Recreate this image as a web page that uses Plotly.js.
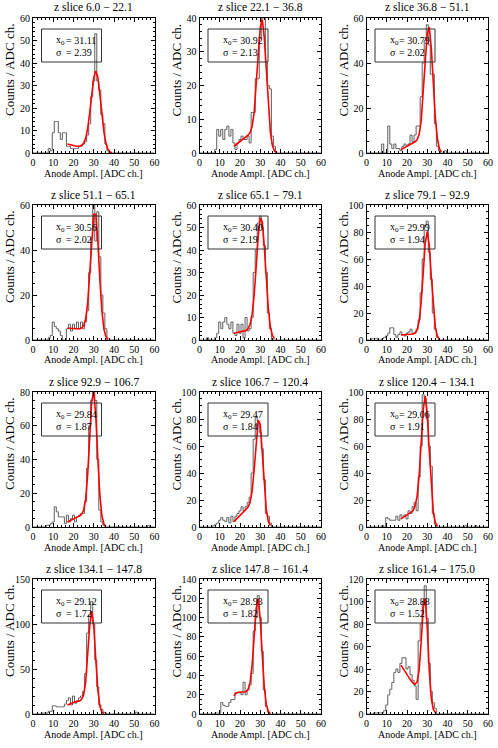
<!DOCTYPE html>
<html><head><meta charset="utf-8">
<script src="https://cdn.plot.ly/plotly-3.0.1.min.js"></script>
<style>html,body{margin:0;padding:0;background:#fff}#chart{width:498px;height:748px}</style>
</head><body><div id="chart"></div>
<script>
// ---------------- data ----------------
const sliceTitles = [
  "z slice 6.0 \u2212 22.1", "z slice 22.1 \u2212 36.8", "z slice 36.8 \u2212 51.1",
  "z slice 51.1 \u2212 65.1", "z slice 65.1 \u2212 79.1", "z slice 79.1 \u2212 92.9",
  "z slice 92.9 \u2212 106.7", "z slice 106.7 \u2212 120.4", "z slice 120.4 \u2212 134.1",
  "z slice 134.1 \u2212 147.8", "z slice 147.8 \u2212 161.4", "z slice 161.4 \u2212 175.0"
];
const peakX0 = ["31.11","30.92","30.79","30.56","30.40","29.99","29.84","29.47","29.06","29.12","28.93","28.88"];
const peakSigma = ["2.39","2.13","2.02","2.02","2.19","1.94","1.87","1.84","1.91","1.72","1.82","1.52"];
const yMax  = [60, 40, 60, 60, 60, 100, 80, 100, 100, 150, 140, 120];
const yStep = [10, 10, 20, 20, 10, 20, 20, 20, 20, 50, 20, 20];
const yMinor = [2, 2, 5, 5, 2, 5, 5, 5, 5, 10, 5, 5];

// histogram counts, one value per ADC channel 0..60
const counts1 = [0,0,0,0,0,0,0,0,2,1, 9,14,14,9,6,9,9,3,3,2, 2,2,2,3,3,4,5,8,13,25, 32,53,32,28,17,13,4,1,0,0, 0,0,0,0,0,0,0,0,0,0, 0,0,0,0,0,0,0,0,0,0, 0];
const counts2 = [0,0,0,0,0,0,0,0,1,7, 5,7,4,7,8,5,7,3,1,3, 4,5,4,4,5,3,12,12,22,22, 34,40,40,27,20,19,5,2,0,0, 0,0,0,0,0,0,0,0,0,0, 0,0,0,0,0,0,0,0,0,0, 0];
const counts3 = [0,0,0,0,0,0,0,0,4,0, 0,12,4,2,4,2,2,1,3,4, 3,4,8,5,8,12,12,25,40,50, 57,48,35,35,13,3,1,0,0,1, 0,0,0,0,0,0,0,0,0,0, 0,0,0,0,0,0,0,0,0,0, 0];
const counts4 = [0,0,0,0,0,0,0,0,1,2, 8,6,5,4,2,0,0,5,7,4, 7,5,8,5,8,5,8,13,30,45, 60,44,57,37,20,12,5,0,0,0, 0,0,0,0,0,0,0,0,0,0, 0,0,0,0,0,0,0,0,0,0, 0];
const counts5 = [0,0,0,0,1,0,0,0,1,3, 8,5,8,10,7,5,8,3,2,7, 3,7,1,10,4,5,10,30,40,52, 55,50,42,30,12,5,0,0,0,0, 0,0,0,0,0,0,0,0,0,0, 0,0,0,0,0,0,0,0,0,0, 0];
const counts6 = [0,0,0,1,1,1,0,0,1,2, 3,5,9,9,4,2,4,6,4,3, 5,6,8,5,5,8,15,35,60,85, 88,65,45,20,8,2,0,0,0,0, 0,0,0,0,0,0,0,0,0,0, 0,0,0,0,0,0,0,0,0,0, 0];
const counts7 = [0,0,0,0,0,0,0,1,1,2, 3,12,9,6,6,6,2,7,3,5, 7,3,6,7,8,8,15,35,60,75, 80,75,40,10,3,1,0,0,0,0, 0,0,0,0,0,0,0,0,0,0, 0,0,0,0,0,0,0,1,0,0, 0];
const counts8 = [0,0,0,0,0,0,0,1,2,3, 5,7,5,4,7,3,8,4,8,10, 12,15,12,15,18,22,40,65,82,78, 70,58,35,10,8,3,0,0,0,0, 0,0,0,0,0,0,0,0,0,0, 0,0,0,0,0,0,0,0,0,0, 0];
const counts9 = [0,0,0,0,0,0,0,0,1,0, 7,6,5,5,5,8,5,9,7,9, 6,12,10,15,18,12,37,60,98,95, 80,60,45,10,2,0,0,0,0,0, 0,0,0,0,0,0,0,0,0,1, 0,0,0,0,1,0,0,0,0,0, 0];
const counts10 = [0,0,0,0,0,1,1,1,3,3, 9,9,8,8,8,8,11,15,18,10, 20,12,15,18,20,25,45,90,110,125, 100,60,30,10,5,2,1,0,0,0, 0,0,0,0,0,0,0,0,0,0, 0,2,0,0,0,0,0,0,0,0, 0];
const counts11 = [0,0,0,0,0,0,0,0,1,1, 1,12,9,8,8,12,15,15,22,22, 22,20,33,20,25,30,42,86,100,123, 100,65,25,8,2,0,0,0,0,0, 0,0,0,0,0,0,0,0,0,0, 0,0,0,0,0,0,0,0,0,0, 0];
const counts12 = [0,0,0,0,1,1,1,1,1,3, 8,17,22,28,37,40,37,45,50,50, 40,42,35,30,25,13,65,80,100,114, 85,45,20,10,5,0,0,0,0,0, 0,0,0,0,0,0,0,0,0,0, 0,0,0,0,0,0,0,0,0,0, 0];

// fitted curve values, one per ADC channel starting at fitStart
const fitStart = 17;
const fit1 = [4,3.7,3.5,3.3,3.1,3,3,3.4,4.3,6.5,10.9,17.8,26.3,33.5,36.5,33.8,26.2,17.1,9.5,4.4,1.7,0.5,0.1];
const fit2 = [2,2.5,3,3.5,4,4.4,4.8,5.3,6.1,7.9,12,19.4,29.1,37.2,39.6,34.2,24,13.5,6.1,2.2,0.6,0.15];
const fit3 = [1.5,2,2.5,3,3.5,4,4.4,5,5.9,8.3,14.2,25.4,40.5,53.2,56,46.6,30.5,15.7,6.4,1.9,0.5];
const fit4 = [5.2,5.1,5,5,5,5,5,5.3,6.3,9.3,16.5,29.1,44.7,55.9,55.9,44.1,27.2,13.2,5,1.5,0.3];
const fit5 = [3,3.2,3.4,3.6,3.8,4,4.2,5.1,7,11.5,20,32.8,46.3,54.3,52.6,41.5,26.6,13.9,5.9,2,0.6];
const fit6 = [3.7,3.8,3.9,4,4.1,4.2,4.4,5.2,7.4,13.8,27.9,49.7,71.5,80.4,69.9,46.9,24.1,9.5,2.9,0.6];
const fit7 = [3,3.7,4.3,5,5.5,6,6.5,7.6,9.9,16.4,31.1,53.5,74.6,80.3,65.9,40.9,19.2,6.8,1.8,0.3];
const fit8 = [4,5.5,7,8.5,10,11.3,12.6,14.7,18.3,26.7,42.7,64.1,79.2,76.1,55.5,30.5,12.6,4,1];
const fit9 = [6,7,8,9,10,11,12,15.7,22.9,38,62.3,87.1,97,84.2,56.3,28.7,11.2,3.4,0.7];
const fit10 = [10,11,12,13,13.5,14,14.5,16.3,21.2,35.5,63.6,97.7,114.3,98,60.9,27.4,8.9,2.1,0.3];
const fit11 = [19,21.5,22.5,22.8,23,23,23,25.7,33,51,80.5,109.8,119.4,98.3,60.8,28,9.7,2.5,0.4];
const fit12 = [43.5,40.5,37.5,34.5,32,29.5,27.5,26.5,28.5,39,63.9,94.1,102.7,77.1,39,13.9,4,1.3];

const allCounts = [counts1,counts2,counts3,counts4,counts5,counts6,counts7,counts8,counts9,counts10,counts11,counts12];
const allFits = [fit1,fit2,fit3,fit4,fit5,fit6,fit7,fit8,fit9,fit10,fit11,fit12];

// ---------------- layout geometry ----------------
const W = 498, H = 748;
const colLeft = [33, 199.5, 366.5], plotW = 121.5;
const rowTop = [18, 205, 392, 579], plotH = 135;
const px = v => v / W, py = v => 1 - v / H;
const FONT = "Liberation Serif";

const traces = [], shapes = [], annotations = [];
const layout = {
  width: W, height: H, margin: {l:0, r:0, t:0, b:0},
  paper_bgcolor: '#fff', plot_bgcolor: '#fff', showlegend: false,
  font: {family: FONT, size: 10, color: '#000'}
};

function note(text, x, y, size, opts) {
  annotations.push(Object.assign({text: text, xref:'paper', yref:'paper', x: px(x), y: py(y),
    xanchor:'center', yanchor:'middle', showarrow:false,
    font:{family:FONT, size:size, color:'#000'}}, opts || {}));
}

for (let i = 0; i < 12; i++) {
  const r = Math.floor(i / 3), c = i % 3;
  const L = colLeft[c], T = rowTop[r];
  const n = i + 1;
  const xa = 'x' + (n === 1 ? '' : n), ya = 'y' + (n === 1 ? '' : n);
  const channels = allCounts[i].map((_, k) => k);
  const fitX = allFits[i].map((_, k) => fitStart + k);
  traces.push({type:'scatter', mode:'lines', x: channels, y: allCounts[i], xaxis: xa, yaxis: ya,
    line: {shape:'hvh', color:'#5e5e5e', width:1}, hoverinfo:'skip'});
  traces.push({type:'scatter', mode:'lines', x: fitX, y: allFits[i], xaxis: xa, yaxis: ya,
    line: {color:'#ff0000', width:1.6}, hoverinfo:'skip'});

  const common = {showline:true, linecolor:'#000', linewidth:1, mirror:'ticks', ticks:'inside',
    ticklen:4, tickwidth:1, tickcolor:'#000', showgrid:false, zeroline:false,
    tickfont:{family:FONT, size:10, color:'#000'}, fixedrange:true};
  layout['xaxis' + (n === 1 ? '' : n)] = Object.assign({}, common, {
    domain:[px(L), px(L + plotW)], range:[0, 60], dtick:10, tick0:0, anchor: ya,
    minor:{ticks:'inside', dtick:2, ticklen:2, tickcolor:'#000'}});
  layout['yaxis' + (n === 1 ? '' : n)] = Object.assign({}, common, {
    domain:[py(T + plotH), py(T)], range:[0, yMax[i]], dtick:yStep[i], tick0:0, anchor: xa,
    minor:{ticks:'inside', dtick:yMinor[i], ticklen:2, tickcolor:'#000'}});

  shapes.push({type:'rect', xref:'paper', yref:'paper', x0:px(L + 8.5), x1:px(L + 68.5),
    y0:py(T + 44), y1:py(T + 11), line:{color:'#333', width:1}});

  note(sliceTitles[i], L + plotW/2, T - 10.5, 11.5);
  note('Anode Ampl. [ADC ch.]', L + plotW/2, T + plotH + 20, 10);
  note('Counts / ADC ch.', L - 23.5, T + plotH/2 - 15, 13, {textangle:-90});
  note('x<sub>0</sub>', L + 21, T + 22.7, 10, {xanchor:'left'});
  note('= ' + peakX0[i], L + 30.5, T + 22.7, 10, {xanchor:'left'});
  note('\u03c3', L + 21, T + 34.7, 10, {xanchor:'left'});
  note('= ' + peakSigma[i], L + 30.5, T + 34.7, 10, {xanchor:'left'});
}
layout.shapes = shapes;
layout.annotations = annotations;

Plotly.newPlot('chart', traces, layout, {staticPlot:true, displayModeBar:false});
</script>
</body></html>
